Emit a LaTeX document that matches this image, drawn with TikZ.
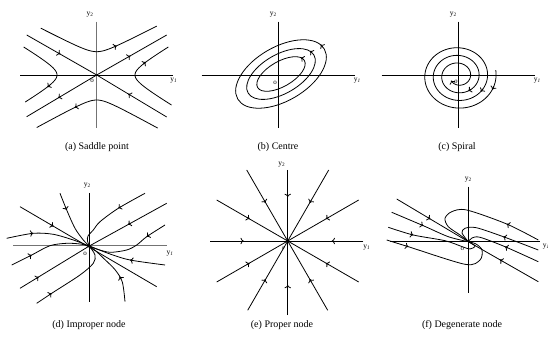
\documentclass[tikz,border=0pt]{standalone}
\usepackage{fontspec}
\setmainfont{Liberation Serif}
\usetikzlibrary{arrows.meta}
\tikzset{
  crv/.style={line width=0.8pt},
  axl/.style={line width=0.8pt},
  axg/.style={line width=1pt, draw=black!55},
  tipst/.style={line width=0.8pt,-{To[length=3.2pt,width=6.4pt]}},
  lab/.style={font=\fontsize{7.5}{8}\selectfont, inner sep=0pt},
  olab/.style={font=\fontsize{7}{8}\selectfont, inner sep=0pt},
  captxt/.style={font=\fontsize{10}{12}\selectfont, inner sep=0pt},
}
\newcommand\arrowhd[2]{\draw[tipst] #1 -- #2;}
\begin{document}
\begin{tikzpicture}[x=1pt,y=1pt]
\useasboundingbox (0,0) rectangle (548,337);

% ---------------- (a) Saddle point ----------------
\begin{scope}[shift={(96.7,262)}]
  \draw[axg] (0,53.3) -- (0,-53);
  \draw[axl] (-76.7,0) -- (76.3,0);
  \node[lab] (a-y2) at (-6.7,60) {y\textsubscript{2}};
  \node[lab] (a-y1) at (77,-6) {y\textsubscript{\itshape 1}};
  \node[olab] (a-o) at (-4.5,-5.5) {o};
  % hyperbolas
  \draw[crv] plot[domain=-56:60,samples=60,smooth] (\x,{17.3+sqrt((0.517*\x)*(0.517*\x)+36)});
  \arrowhd{(18,28.37)}{(20,29.25)}
  \draw[crv] plot[domain=-60:61,samples=60,smooth] (\x,{-(19+sqrt((0.55*\x)*(0.55*\x)+36))});
  \arrowhd{(-20,-31.53)}{(-22,-32.5)}
  \draw[crv] plot[domain=-27:28,samples=60,smooth] ({-(23.7+sqrt((\x/0.6)*(\x/0.6)+256))},\x);
  \arrowhd{(-46.8,-10)}{(-49.3,-12)}
  \draw[crv] plot[domain=-30:28,samples=60,smooth] ({22.3+sqrt((\x/0.6)*(\x/0.6)+256)},\x);
  \arrowhd{(46.6,11)}{(49.2,13)}
  % asymptotes
  \coordinate (aO) at (0,0);
  \coordinate (a1) at (-70,40);
  \coordinate (a2) at (70,-42);
  \coordinate (a3) at (70,40);
  \coordinate (a4) at (-70,-41.7);
  \draw[crv] (a1) -- (aO) -- (a2);
  \draw[crv] (a4) -- (aO) -- (a3);
  \arrowhd{(-38.5,22)}{(-36.4,20.8)}
  \arrowhd{(33.6,-20.16)}{(31.5,-18.9)}
  \arrowhd{(31.5,18)}{(33.6,19.2)}
  \arrowhd{(-36.4,-21.7)}{(-38.5,-22.9)}
\end{scope}
\node[captxt] (capa) at (97,190) {(a) Saddle point};

% ---------------- (b) Centre ----------------
\begin{scope}[shift={(278.3,262)}]
  \draw[axl] (0,53.3) -- (0,-53);
  \draw[axl] (-76.7,0) -- (76.7,0);
  \node[lab] (b-y2) at (-5,60) {y\textsubscript{2}};
  \node[lab] (b-y1) at (79,-6) {y\textsubscript{\itshape 1}};
  \node[olab] (b-o) at (-3.3,-7.5) {o};
  \begin{scope}[shift={(2.7,1)},rotate=30]
    \draw[crv] (0,0) ellipse[x radius=50,y radius=27];
    \draw[crv] (0,0) ellipse[x radius=38,y radius=19.5];
    \draw[crv] (0,0) ellipse[x radius=27,y radius=12.5];
    \arrowhd{(49.73,2.82)}{(48.91,5.61)}
    \arrowhd{(37.42,3.39)}{(36.53,5.37)}
    \arrowhd{(26.2,3.02)}{(25.37,4.28)}
  \end{scope}
\end{scope}
\node[captxt] (capb) at (278,190) {(b) Centre};

% ---------------- (c) Spiral ----------------
\begin{scope}[shift={(458.3,262)}]
  \draw[axl] (0,53.3) -- (0,-53);
  \draw[axl] (-76.7,0) -- (76.7,0);
  \node[lab] (c-y2) at (-5,60) {y\textsubscript{2}};
  \node[lab] (c-y1) at (79,-6) {y\textsubscript{\itshape 1}};
  \node[olab] (c-o) at (-2.5,-7) {\itshape o};
  \draw[crv,-{To[length=3.2pt,width=6.4pt]}]
    plot[domain=0:1235,samples=300,smooth,variable=\t]
    ({(38-8.5*\t/360)*cos(10-\t)},{-1+0.9*(38-8.5*\t/360)*sin(10-\t)});
  \arrowhd{(35.51,-11.38)}{(33.98,-14.62)}
  \arrowhd{(24.73,-13.85)}{(22.45,-16.62)}
  \arrowhd{(12.86,-14.32)}{(9.98,-15.94)}
\end{scope}
\node[captxt] (capc) at (457,190) {(c) Spiral};

% ---------------- (d) Improper node ----------------
\begin{scope}[shift={(89.3,91)}]
  \draw[axg] (-76.3,0) -- (77.7,0);
  \draw[axl] (0,53) -- (0,-55.7);
  \node[lab] (d-y2) at (-2,60.3) {y\textsubscript{2}};
  \node[lab] (d-y1) at (80.7,-8) {y\textsubscript{\itshape 1}};
  \node[olab] (d-o) at (-4.3,-8) {o};
  \coordinate (dO) at (0,0);
  \coordinate (dB1) at (-69.3,39.3);
  \coordinate (dB2) at (67.4,-40.7);
  \coordinate (dE1) at (-69.3,-42.3);
  \coordinate (dE2) at (77.4,42.7);
  \draw[crv] plot[smooth] coordinates {(-29.3,52.7) (-22.6,36) (-14.3,17.7) (-6,6) (0,0)};
  \arrowhd{(-23.8,38.8)}{(-22.6,36)}
  \draw[crv] (dB1) -- (dB2);
  \arrowhd{(-38.4,21.2)}{(-35.8,19.7)}
  \draw[crv] plot[smooth] coordinates {(-82.6,7.7) (-56,12.7) (-36,11.7) (-16,6) (0,0)};
  \arrowhd{(-59,12.45)}{(-56,12.7)}
  \draw[crv] plot[smooth] coordinates {(-77.6,-19) (-57.6,-9) (-39.3,0.3) (-22.6,2.7) (-9.3,2) (0,0)};
  \arrowhd{(-60.3,-10.35)}{(-57.6,-9)}
  \draw[crv] (dE1) -- (dO) -- (dE2);
  \arrowhd{(-53.2,-32.5)}{(-50.6,-30.9)}
  \arrowhd{(41.3,22.8)}{(38.7,21.35)}
  \draw[crv] plot[smooth] coordinates {(-52.6,-57.3) (-37.6,-47.3) (-9.3,-29) (4,-17.3) (5.7,-9) (0,0)};
  \arrowhd{(-40.1,-48.9)}{(-37.6,-47.3)}
  \draw[crv] plot[smooth] coordinates {(55.7,52.7) (29,37.7) (10.7,24.3) (4,16) (-1.3,10) (-1.8,5) (0,0)};
  \arrowhd{(31.5,39.3)}{(29,37.7)}
  \draw[crv] plot[smooth] coordinates {(75.7,21) (57.4,9.3) (47.4,1) (37.4,-4) (20.7,-6.3) (7.4,-3) (0,0)};
  \arrowhd{(59.9,11.0)}{(57.4,9.3)}
  \draw[crv] plot[smooth] coordinates {(75.7,-19) (40.7,-14) (20.7,-8) (0,0)};
  \arrowhd{(43.6,-14.6)}{(40.7,-14)}
  \draw[crv] plot[smooth] coordinates {(35.7,-55.7) (33,-36) (26,-24) (15,-13) (6,-4.5) (0,0)};
  \arrowhd{(31.8,-33.1)}{(30.3,-30.5)}
\end{scope}
\node[captxt] (capd) at (89,12) {(d) Improper node};

% ---------------- (e) Proper node ----------------
\begin{scope}[shift={(287.7,96)}]
  \node[lab] (e-y2) at (-6,76) {y\textsubscript{2}};
  \node[lab] (e-y1) at (79,-6.3) {y\textsubscript{\itshape 1}};
  \node[olab,font=\fontsize{5.5}{6}\selectfont\itshape] (e-o) at (-4.4,-7.3) {o};
  \coordinate (eO) at (0,0);
  \foreach \ang/\len in {0/75.7,30/82,60/82,90/71,120/82,150/82,180/77.7,210/82,240/80,270/74,300/80,330/82}{
    \draw[crv] (\ang:\len) -- (eO);
    \draw[tipst] (\ang:47) -- (\ang:44);
  }
  \fill (eO) circle (1.7);
\end{scope}
\node[captxt] (cape) at (282,12) {(e) Proper node};

% ---------------- (f) Degenerate node ----------------
\begin{scope}[shift={(468.3,95.3)}]
  \draw[axl] (-78.3,0) -- (71.7,0);
  \draw[axl] (0,55) -- (0,-51.6);
  \node[lab] (f-y2) at (0,61.7) {y\textsubscript{2}};
  \node[lab] (f-y1) at (78,-5) {y\textsubscript{\itshape 1}};
  \node[olab] (f-o) at (-6,-7.3) {o};
  \coordinate (fO) at (0,0);
  \coordinate (fE1) at (-71.6,42.7);
  \coordinate (fE2) at (70,-40);
  \draw[crv] (fE1) -- (fO) -- (fE2);
  \arrowhd{(-40.5,24.2)}{(-37.95,22.63)}
  \arrowhd{(34.1,-19.5)}{(31.5,-18)}
  \draw[crv] plot[smooth] coordinates {(-76.6,29.4) (-45,16) (-20,5) (0,0)};
  \arrowhd{(-47.75,17.2)}{(-45,16)}
  \draw[crv] plot[smooth] coordinates {(-80,14.4) (-55,6.7) (-23.3,1) (-6,-5) (1.7,-7.3) (6.7,-4.3) (0,0)};
  \arrowhd{(-57.9,7.4)}{(-55,6.7)}
  \draw[crv] plot[smooth] coordinates {(-81.6,1.7) (-60,-5) (-3.3,-22.6) (11.7,-18.3) (13.7,-8.3) (7.7,-2.3) (0,0)};
  \arrowhd{(-62.9,-4.1)}{(-60,-5)}
  \draw[crv] plot[smooth] coordinates {(70,1.7) (38.4,17.7) (-1.6,31.7) (-16.6,30) (-23.3,23.4) (-20,15) (-8.3,6.7) (0,0)};
  \arrowhd{(41.2,16.5)}{(38.4,17.7)}
  \draw[crv] plot[smooth] coordinates {(70,-8.3) (35,5) (8,14) (-3.3,13.4) (-6.3,8.7) (0,0)};
  \arrowhd{(37.8,4.0)}{(35,5)}
  \draw[crv] plot[smooth] coordinates {(70,-20) (36.7,-5) (11.7,4.4) (3.7,3.7) (0,0)};
  \arrowhd{(39.5,-6.2)}{(36.7,-5)}
\end{scope}
\node[captxt] (capf) at (462,12) {(f) Degenerate node};
\end{tikzpicture}
\end{document}
